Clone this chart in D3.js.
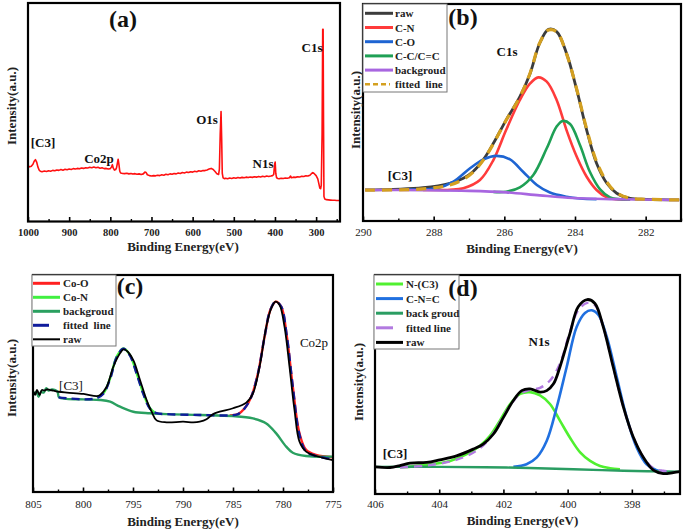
<!DOCTYPE html>
<html><head><meta charset="utf-8">
<script src="https://cdn.jsdelivr.net/npm/d3@7"></script>
<style>
body{margin:0;background:#fff}
svg{display:block}
text{font-family:"Liberation Serif","Times New Roman",serif}
</style>
</head><body>
<svg id="chart" width="685" height="531"></svg>
<script>
// ---------------- DATA ----------------
// (a) survey spectrum: [binding energy, intensity]
const ticksA = [1000, 900, 800, 700, 600, 500, 400, 300];
const minorA = [950, 850, 750, 650, 550, 450, 350, 250];
const surveyRaw = [
[1000,25.5],[996,25.0],[992,25.3],[988,26.2],[985,27.6],[982,28.3],[979,27.2],[976,25.0],[973,23.6],[970,23.0],
[966,22.8],[960,23.1],[955,22.9],[950,23.2],[945,23.0],[940,23.4],[935,23.2],[930,23.6],[925,23.4],[920,23.8],
[915,23.5],[910,23.9],[905,23.7],[900,24.0],[895,23.8],[890,24.2],[885,24.0],[880,24.3],[875,24.1],[870,24.5],
[865,24.3],[860,24.6],[855,24.5],[850,24.8],[845,24.6],[840,24.9],[835,24.6],[830,24.8],[825,24.4],[820,24.6],
[815,24.2],[810,24.3],[805,24.0],[800,24.2],[797,25.0],[795,26.0],[793,24.5],[790,23.5],[787,23.8],[785,24.5],
[783,26.5],[781,28.5],[779,26.0],[777,23.0],[775,22.2],[770,22.0],[765,21.9],[760,22.1],[755,21.8],[750,22.0],
[745,21.7],[740,21.9],[735,21.6],[730,21.8],[725,21.5],[720,21.8],[716,22.6],[713,22.4],[710,21.4],[705,21.0],
[700,20.8],[695,21.0],[690,20.9],[685,21.2],[680,21.0],[675,21.4],[670,21.2],[665,21.6],[660,21.4],[655,21.8],
[650,21.6],[645,22.0],[640,21.8],[635,22.2],[630,22.0],[625,22.4],[620,22.2],[615,22.6],[610,22.4],[605,22.8],
[600,22.6],[595,23.0],[590,22.8],[585,23.2],[580,23.0],[575,23.3],[570,23.3],[565,23.6],[560,24.0],[555,24.3],
[550,23.8],[545,22.8],[541,21.8],[537,21.5],[535,24.0],[533,40.0],[531,50.3],[529.5,38.0],[528,22.0],[526,20.0],
[523,19.6],[520,19.8],[515,19.6],[510,19.9],[505,19.7],[500,20.0],[495,19.8],[490,20.1],[485,19.9],[480,20.2],
[475,20.0],[470,20.3],[465,20.1],[460,20.4],[455,20.2],[450,20.5],[445,20.3],[440,20.6],[435,20.4],[430,20.7],
[425,20.5],[420,20.8],[415,20.6],[410,20.8],[406,21.0],[403,21.5],[401,26.0],[399.5,27.2],[398,22.0],[396,20.0],
[393,19.7],[390,19.6],[385,19.8],[380,19.7],[375,19.9],[370,19.8],[365,20.0],[362,20.8],[360,20.0],[355,20.3],
[350,20.2],[345,20.5],[340,20.4],[335,20.7],[330,20.6],[325,20.9],[320,20.8],[315,21.2],[311,22.0],[308,22.4],
[305,22.0],[300,21.0],[296,19.5],[293,17.0],[291,15.3],[289,15.0],[287.5,16.5],[285.5,40.0],[284,88.0],[283,88.0],
[282,45.0],[281,11.5],[279,10.3],[275,10.0],[270,9.9],[265,9.8],[260,9.7],[255,9.7],[250,9.6],[242,9.6]
];

// (b) C1s
const ticksB = [290, 288, 286, 284, 282];
const minorB = [289, 287, 285, 283, 281];
const bRaw = [[289.94,14.3],[288.30,15.4],[287.54,17.4],[287.16,19.7],[286.89,22.7],[286.59,28.4],[286.31,35.8],[285.95,46.5],[285.56,57.3],[285.27,68.0],[285.00,81.9],[284.75,88.3],[284.52,87.3],[284.24,77.3],[283.95,60.4],[283.67,41.9],[283.39,26.6],[283.10,17.4],[282.82,12.8],[282.44,10.4],[281.97,10.0],[281.05,9.7]];
const bCN = [[288.30,14.3],[287.54,14.4],[287.16,15.1],[286.69,18.9],[286.31,28.1],[285.95,41.9],[285.56,55.8],[285.27,63.4],[285.04,66.2],[284.80,64.2],[284.52,55.8],[284.24,41.9],[283.95,29.6],[283.67,20.4],[283.39,14.3],[283.10,10.9],[282.82,10.0],[282.44,9.9]];
const bCO = [[288.77,14.5],[287.91,15.1],[287.44,18.1],[286.97,24.3],[286.59,28.4],[286.22,30.0],[285.84,28.4],[285.47,22.7],[285.08,16.6],[284.71,13.1],[284.24,11.2],[283.86,10.4],[283.39,10.1]];
const bCC = [[286.31,13.4],[285.95,13.5],[285.56,15.5],[285.18,21.2],[284.80,33.5],[284.52,43.5],[284.35,46.1],[284.14,44.7],[283.86,35.0],[283.58,22.7],[283.29,14.6],[283.01,10.9],[282.73,10.0],[282.44,9.9]];
const bBg = [[289.94,14.3],[288.30,14.2],[287.00,13.9],[285.95,13.2],[285.00,11.8],[284.06,10.6],[283.00,10.1],[281.05,9.7]];
const bFit = [[289.94,14.2],[288.30,14.8],[287.54,16.6],[287.16,19.2],[286.89,22.4],[286.59,28.2],[286.31,35.6],[285.95,46.4],[285.56,57.2],[285.27,68.2],[285.00,82.0],[284.75,88.0],[284.52,87.2],[284.24,77.0],[283.95,60.6],[283.67,42.4],[283.39,27.4],[283.10,18.0],[282.82,13.0],[282.44,10.5],[281.97,10.0],[281.05,9.7]];
const legendB = ["raw", "C-N", "C-O", "C-C/C=C", "backgroud", "fitted  line"];

// (c) Co2p
const ticksC = [805, 800, 795, 790, 785, 780, 775];
const minorC = [802.5, 797.5, 792.5, 787.5, 782.5, 777.5];
const cCoO = [[785.33,35.3],[784.50,35.9],[783.83,38.6],[783.17,43.9],[782.50,54.7],[781.84,71.6],[781.27,83.9],[780.74,87.7],[780.18,85.4],[779.61,71.6],[779.02,48.5],[778.35,27.0],[777.69,19.4],[776.69,17.1],[775.03,16.0]];
const cCoN = [[798.62,43.6],[797.96,45.5],[797.29,52.4],[796.63,62.4],[795.96,66.2],[795.30,63.1],[794.63,54.7],[793.97,45.5],[793.30,38.6],[792.64,35.9]];
const cBg = [[804.94,44.7],[804.67,46.2],[804.44,43.9],[804.21,46.2],[803.94,45.8],[803.67,47.8],[803.44,46.7],[803.11,47.3],[802.78,47.0],[802.54,46.2],[802.38,43.6],[799.95,42.7],[798.29,42.4],[797.29,41.6],[796.30,39.3],[794.97,37.0],[793.30,36.3],[791.64,35.9],[788.32,35.5],[785.00,35.0],[783.00,33.9],[781.67,31.6],[780.68,27.0],[779.68,20.9],[779.02,18.1],[777.69,16.6],[775.03,16.3]];
const cFit = [[802.44,43.6],[799.95,42.7],[798.62,43.3],[797.96,45.3],[797.29,52.1],[796.63,62.1],[795.96,66.0],[795.30,62.8],[794.63,54.4],[793.97,45.2],[793.30,38.4],[792.64,36.3],[791.64,35.9],[788.32,35.5],[785.33,35.3],[784.50,35.9],[783.83,38.6],[783.17,43.9],[782.50,54.7],[781.84,71.6],[781.27,83.9],[780.74,87.7],[780.18,85.4],[779.61,71.6],[779.02,48.5],[778.35,26.3],[777.69,18.6],[776.69,16.6],[775.03,15.0]];
const cRaw = [[804.94,46.2],[804.77,44.8],[804.60,47.0],[804.34,44.7],[804.11,47.0],[803.84,46.7],[803.61,47.3],[803.28,47.0],[802.94,46.7],[802.44,46.2],[801.61,45.8],[799.95,45.2],[798.62,44.2],[798.29,44.7],[797.63,48.5],[796.96,57.8],[796.30,63.9],[795.96,65.7],[795.63,65.1],[794.97,60.8],[794.30,51.6],[793.64,42.4],[793.14,37.0],[792.64,33.0],[791.64,32.1],[789.98,32.4],[788.98,32.1],[788.32,32.4],[787.65,33.5],[786.99,35.9],[786.33,37.0],[785.00,38.6],[783.67,41.2],[783.00,45.5],[782.34,57.8],[781.67,76.2],[781.18,84.6],[780.74,87.7],[780.34,86.2],[779.85,76.2],[779.35,57.8],[778.85,37.8],[778.35,23.2],[777.69,18.6],[776.69,16.6],[775.03,14.7]];
const legendC = ["Co-O", "Co-N", "backgroud", "fitted  line", "raw"];

// (d) N1s
const ticksD = [406, 404, 402, 400, 398];
const minorD = [405, 403, 401, 399, 397];
const dNC3 = [[405.22,12.1],[404.39,13.3],[403.66,15.1],[403.14,18.2],[402.73,22.0],[402.42,26.6],[402.11,33.5],[401.79,41.1],[401.48,45.7],[401.17,46.5],[400.86,45.0],[400.55,41.1],[400.24,33.5],[399.93,25.8],[399.61,19.0],[399.30,15.1],[398.99,12.8],[398.68,11.8],[398.37,11.3]];
const dCNC = [[401.69,12.4],[401.28,13.6],[400.96,16.7],[400.65,24.3],[400.34,39.6],[400.03,58.0],[399.72,76.3],[399.46,82.7],[399.25,83.9],[399.04,81.7],[398.78,71.7],[398.47,53.4],[398.16,35.0],[397.85,21.3],[397.54,13.6],[397.23,10.9],[396.91,10.2]];
const dBg = [[406.0,12.4],[403.98,12.4],[401.90,12.1],[399.82,11.3],[398.26,10.6],[396.5,10.2]];
const dFit = [[405.22,12.1],[404.39,13.0],[403.66,14.8],[403.14,17.4],[402.73,20.9],[402.42,25.5],[402.11,32.7],[401.79,40.4],[401.48,45.7],[401.17,47.6],[400.86,48.5],[400.55,51.8],[400.24,59.5],[399.93,74.0],[399.67,83.9],[399.39,87.3],[399.15,86.2],[398.89,76.3],[398.58,58.0],[398.26,39.6],[397.95,25.8],[397.64,16.7],[397.33,11.8],[397.02,10.6],[396.71,10.2]];
const dRaw = [[406.0,12.4],[405.53,12.1],[405.22,13.0],[404.91,14.1],[404.39,14.4],[403.98,15.6],[403.46,17.4],[402.94,20.5],[402.63,22.8],[402.31,27.4],[402.00,35.0],[401.69,42.7],[401.43,47.2],[401.17,48.0],[400.86,46.5],[400.65,47.2],[400.44,50.3],[400.24,58.0],[399.93,73.2],[399.67,85.5],[399.39,88.8],[399.15,87.0],[398.89,76.3],[398.58,58.0],[398.26,39.6],[397.95,25.8],[397.64,16.7],[397.33,10.9],[397.02,9.3],[396.71,9.8],[396.50,10.2]];
const legendD = ["N-(C3)", "C-N=C", "back groud", "fitted line", "raw"];

// ---------------- DRAWING ----------------
const svg = d3.select("#chart");
const FONT = "'Liberation Serif','Times New Roman',serif";
const smooth = d3.curveCatmullRom.alpha(0.5);

function drawPanel(p) {
  const x = d3.scaleLinear().domain(p.xd).range([p.l, p.r]);
  const y = d3.scaleLinear().domain([0, 100]).range([p.b, p.t]);
  const cid = "clip-" + p.name;
  svg.append("clipPath").attr("id", cid).append("rect")
    .attr("x", p.l).attr("y", p.t).attr("width", p.r - p.l).attr("height", p.b - p.t);
  const g = svg.append("g").attr("clip-path", `url(#${cid})`);
  p.series.forEach(s => {
    g.append("path").datum(s.data)
      .attr("fill", "none").attr("stroke", s.color).attr("stroke-width", s.w)
      .attr("stroke-dasharray", s.dash || null)
      .attr("stroke-linejoin", "round")
      .attr("d", d3.line().x(d => x(d[0])).y(d => y(d[1])).curve(s.curve || smooth));
  });
  const lo = Math.min(...p.xd), hi = Math.max(...p.xd);
  const mi = svg.append("g").attr("transform", `translate(0,${p.b})`)
    .call(d3.axisBottom(x).tickValues(p.minor.filter(v => v <= hi && v >= lo)).tickSize(-2.5).tickFormat(""));
  mi.select(".domain").remove();
  mi.selectAll("line").attr("stroke", "#000").attr("stroke-width", 1.4);
  const ax = svg.append("g").attr("transform", `translate(0,${p.b})`)
    .call(d3.axisBottom(x).tickValues(p.ticks).tickSize(-4.5).tickPadding(p.pad).tickFormat(d => d));
  ax.select(".domain").remove();
  ax.attr("font-family", FONT);
  ax.selectAll("line").attr("stroke", "#000").attr("stroke-width", 1.6);
  ax.selectAll("text").attr("font-size", p.tickFs).attr("font-weight", p.tickFw).attr("fill", "#222");
  svg.append("rect").attr("x", p.l).attr("y", p.t).attr("width", p.r - p.l).attr("height", p.b - p.t)
    .attr("fill", "none").attr("stroke", "#000").attr("stroke-width", 2.2);
  svg.append("text").attr("x", (p.l + p.r) / 2 + p.titleDx).attr("y", p.titleY)
    .attr("text-anchor", "middle").attr("font-size", 13).attr("font-weight", "bold").attr("fill", "#222")
    .text("Binding Energy(eV)");
  svg.append("text").attr("transform", `translate(${p.yTitleX},${p.yTitleY}) rotate(-90)`)
    .attr("text-anchor", "middle").attr("dominant-baseline", "central")
    .attr("font-size", 13).attr("font-weight", "bold").attr("fill", "#222")
    .text("Intensity(a.u.)");
  if (p.legend) {
    const L = p.legend;
    svg.append("rect").attr("x", L.x).attr("y", L.y).attr("width", L.w).attr("height", L.h)
      .attr("fill", "#fff").attr("stroke", "#777").attr("stroke-width", 1);
    L.items.forEach((it, i) => {
      const yy = L.y0 + i * L.dy;
      svg.append("line").attr("x1", L.sx1).attr("x2", it.sx2 || L.sx2).attr("y1", yy).attr("y2", yy)
        .attr("stroke", it.color).attr("stroke-width", it.w || 3).attr("stroke-dasharray", it.dash || null);
      svg.append("text").attr("x", L.tx).attr("y", yy + 4).attr("font-size", 11).attr("font-weight", "bold")
        .attr("fill", "#222").style("white-space", "pre").text(it.label);
    });
  }
  p.notes.forEach(n => {
    svg.append("text").attr("x", n.x).attr("y", n.y).attr("text-anchor", "middle")
      .attr("font-size", n.fs).attr("font-weight", n.fw).attr("fill", n.color || "#111")
      .text(n.t);
  });
}

// (a)
drawPanel({
  name: "a", xd: [1000, 242], l: 28, r: 340, t: 3, b: 221.5,
  ticks: ticksA, minor: minorA, tickFs: 10.5, tickFw: "bold", pad: 7,
  titleY: 251, titleDx: -1, yTitleX: 11, yTitleY: 106,
  series: [{ data: surveyRaw, color: "#ff1010", w: 1.6, curve: d3.curveLinear }],
  notes: [
    { t: "(a)", x: 123, y: 27, fs: 24, fw: "bold" },
    { t: "C1s", x: 312, y: 51.5, fs: 13, fw: "bold" },
    { t: "O1s", x: 207, y: 123.5, fs: 13, fw: "bold" },
    { t: "N1s", x: 263, y: 167.5, fs: 13, fw: "bold" },
    { t: "Co2p", x: 99, y: 163, fs: 13, fw: "bold" },
    { t: "[C3]", x: 43, y: 146.5, fs: 13, fw: "bold" }
  ]
});

// (b)
const colB = ["#3c3c3c", "#ff3b3b", "#1e64d2", "#1fa055", "#a866e0", "#d4a020"];
drawPanel({
  name: "b", xd: [290, 281], l: 363, r: 681, t: 4, b: 221,
  ticks: ticksB, minor: minorB, tickFs: 11, tickFw: "normal", pad: 7.5,
  titleY: 252.5, titleDx: 0, yTitleX: 355, yTitleY: 110,
  series: [
    { data: bRaw, color: colB[0], w: 2.8 },
    { data: bCN, color: colB[1], w: 2.6 },
    { data: bCO, color: colB[2], w: 2.6 },
    { data: bCC, color: colB[3], w: 2.6 },
    { data: bBg, color: colB[4], w: 2.6 },
    { data: bFit, color: colB[5], w: 3.2, dash: "10,7" }
  ],
  notes: [
    { t: "(b)", x: 463, y: 25, fs: 24, fw: "bold" },
    { t: "C1s", x: 507, y: 55.5, fs: 13, fw: "bold" },
    { t: "[C3]", x: 400, y: 179.5, fs: 13, fw: "bold" }
  ],
  legend: {
    x: 363, y: 4, w: 84, h: 88, y0: 13.3, dy: 14.2, sx1: 365, sx2: 393, tx: 395,
    items: legendB.map((lb, i) => ({ label: lb, color: colB[i], dash: i === 5 ? "5,3" : null, sx2: i === 5 ? 390 : null, w: i === 5 ? 2.4 : 3 }))
  }
});

// (c)
const colC = ["#ff2020", "#40f040", "#2aa060", "#101c9c", "#000000"];
drawPanel({
  name: "c", xd: [805, 775], l: 33, r: 333, t: 275, b: 492,
  ticks: ticksC, minor: minorC, tickFs: 11, tickFw: "normal", pad: 8.5,
  titleY: 525.5, titleDx: 0, yTitleX: 11, yTitleY: 378,
  series: [
    { data: cCoO, color: colC[0], w: 2.4 },
    { data: cCoN, color: colC[1], w: 2.4 },
    { data: cBg, color: colC[2], w: 2.4 },
    { data: cFit, color: colC[3], w: 2.4, dash: "8,5" },
    { data: cRaw, color: colC[4], w: 1.8 }
  ],
  notes: [
    { t: "(c)", x: 130, y: 294, fs: 24, fw: "bold" },
    { t: "Co2p", x: 314, y: 346.5, fs: 13, fw: "normal" },
    { t: "[C3]", x: 71, y: 389.5, fs: 13, fw: "normal" }
  ],
  legend: {
    x: 32, y: 275, w: 84, h: 71, y0: 283.3, dy: 14, sx1: 33, sx2: 60, tx: 63,
    items: legendC.map((lb, i) => ({ label: lb, color: colC[i], sx2: i === 3 ? 49 : null, w: i === 4 ? 2 : 3 }))
  }
});

// (d)
const colD = ["#50f030", "#2070e0", "#2a9d62", "#b27ae0", "#000000"];
drawPanel({
  name: "d", xd: [406, 396.5], l: 375, r: 680, t: 275, b: 494,
  ticks: ticksD, minor: minorD, tickFs: 11, tickFw: "normal", pad: 6.5,
  titleY: 525, titleDx: -5, yTitleX: 358, yTitleY: 382,
  series: [
    { data: dNC3, color: colD[0], w: 2.6 },
    { data: dCNC, color: colD[1], w: 2.6 },
    { data: dBg, color: colD[2], w: 2.4 },
    { data: dFit, color: colD[3], w: 2.4, dash: "8,6" },
    { data: dRaw, color: colD[4], w: 2.8 }
  ],
  notes: [
    { t: "(d)", x: 463, y: 296, fs: 24, fw: "bold" },
    { t: "N1s", x: 539, y: 345.5, fs: 13, fw: "bold" },
    { t: "[C3]", x: 395, y: 457.5, fs: 13, fw: "bold" }
  ],
  legend: {
    x: 374, y: 275, w: 85, h: 74, y0: 284, dy: 14.6, sx1: 376, sx2: 403, tx: 406,
    items: legendD.map((lb, i) => ({ label: lb, color: colD[i], sx2: i === 3 ? 393 : null, w: 3 }))
  }
});
</script>
</body></html>
